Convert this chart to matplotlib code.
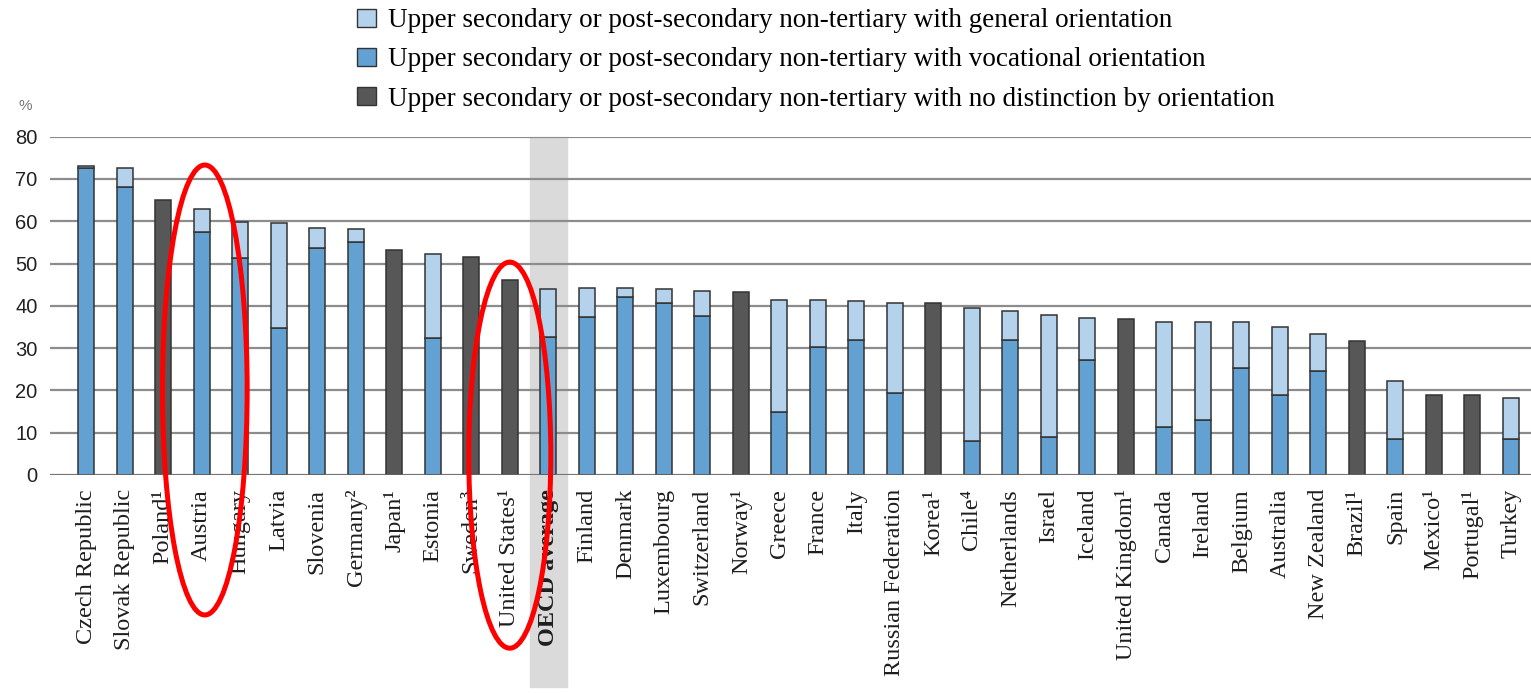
import numpy as np
import matplotlib.pyplot as plt
import matplotlib.transforms as mtransforms
from matplotlib.patches import Patch, Rectangle, Ellipse

countries = ["Czech Republic", "Slovak Republic", "Poland¹", "Austria", "Hungary",
             "Latvia", "Slovenia", "Germany²", "Japan¹", "Estonia", "Sweden³",
             "United States¹", "OECD average", "Finland", "Denmark", "Luxembourg",
             "Switzerland", "Norway¹", "Greece", "France", "Italy",
             "Russian Federation", "Korea¹", "Chile⁴", "Netherlands", "Israel",
             "Iceland", "United Kingdom¹", "Canada", "Ireland", "Belgium",
             "Australia", "New Zealand", "Brazil¹", "Spain", "Mexico¹",
             "Portugal¹", "Turkey"]

vocational = [72.6, 68.2, 0, 57.5, 51.2, 34.8, 53.6, 55.2, 0, 32.3, 0,
              0, 32.6, 37.4, 42.2, 40.7, 37.6, 0, 15.0, 30.3, 31.9,
              19.5, 0, 8.1, 31.9, 9.0, 27.3, 0, 11.3, 13.1, 25.4,
              18.9, 24.6, 0, 8.4, 0, 0, 8.4]
general = [0.5, 4.4, 0, 5.5, 8.7, 24.9, 4.9, 2.9, 0, 20.0, 0,
           0, 11.5, 6.9, 2.0, 3.4, 6.0, 0, 26.5, 11.2, 9.3,
           21.2, 0, 31.3, 6.9, 28.8, 9.9, 0, 24.8, 23.0, 10.7,
           16.1, 8.7, 0, 13.8, 0, 0, 9.9]
no_distinction = [0, 0, 65.0, 0, 0, 0, 0, 0, 53.2, 0, 51.6,
                  46.1, 0, 0, 0, 0, 0, 43.3, 0, 0, 0,
                  0, 40.6, 0, 0, 0, 0, 36.8, 0, 0, 0,
                  0, 0, 31.7, 0, 18.8, 18.8, 0]

legend_labels = [
    "Upper secondary or post-secondary non-tertiary with general orientation",
    "Upper secondary or post-secondary non-tertiary with vocational orientation",
    "Upper secondary or post-secondary non-tertiary with no distinction by orientation",
]

c_gen = "#b4d2eb"
c_voc = "#62a1d1"
c_nod = "#575757"
edge = "#333333"
serif = ["Liberation Serif", "DejaVu Serif"]

fig = plt.figure(figsize=(15.31, 6.93), dpi=100)
ax = fig.add_axes([50 / 1531, 1 - 475 / 693, 1 - 50 / 1531, (475 - 136.7) / 693])

x = np.arange(len(countries))
w = 0.415
voc = np.array(vocational)
gen = np.array(general)
nod = np.array(no_distinction)

ax.bar(x, voc, w, color=c_voc, edgecolor=edge, linewidth=1.1, zorder=3)
ax.bar(x, gen, w, bottom=voc, color=c_gen, edgecolor=edge, linewidth=1.1, zorder=3)
ax.bar(x, nod, w, color=c_nod, edgecolor=edge, linewidth=1.1, zorder=3)

ax.set_xlim(-0.94, 37.52)
ax.set_ylim(0, 80)
ax.set_yticks(np.arange(0, 81, 10))
ax.yaxis.grid(True, color="#8c8c8c", linewidth=1.6, zorder=1)
ax.set_axisbelow(True)
for s in ax.spines.values():
    s.set_visible(False)
ax.axhline(0, color="#6e6e6e", linewidth=1.8, zorder=4)

ax.tick_params(axis="y", length=0, pad=9, labelsize=14.5, labelcolor="#222222")
for t in ax.get_yticklabels():
    t.set_fontfamily("Liberation Sans")

ax.set_xticks(x)
ax.set_xticklabels(countries, rotation=90, fontsize=17.5, color="#1e1e1e",
                   fontfamily=serif, va="top")
ax.tick_params(axis="x", length=0, pad=10)
i_oecd = countries.index("OECD average")
ax.get_xticklabels()[i_oecd].set_fontweight("bold")

# grey band behind the OECD average bar and label
trans = mtransforms.blended_transform_factory(ax.transData, ax.transAxes)
band_bottom = -(687 - 475) / (475 - 136.7)
ax.add_patch(Rectangle((i_oecd - 0.485, band_bottom), 0.97, 1 - band_bottom,
                       transform=trans, color="#dadada", zorder=0, clip_on=False))

# red ellipses around Austria and United States
i_aut = countries.index("Austria")
i_us = countries.index("United States¹")
ax.add_patch(Ellipse((i_aut + 0.08, 20.1), 2.2, 106.4, fill=False, edgecolor="red",
                     linewidth=3.6, zorder=10, clip_on=False))
ax.add_patch(Ellipse((i_us, 4.7), 2.13, 91.3, fill=False, edgecolor="red",
                     linewidth=3.6, zorder=10, clip_on=False))

fig.text(25 / 1531, 1 - 106 / 693, "%", fontsize=11, color="#777777",
         ha="center", va="center", fontfamily="Liberation Sans")

handles = [Patch(facecolor=c, edgecolor=edge, linewidth=1) for c in (c_gen, c_voc, c_nod)]
fig.legend(handles, legend_labels, loc="upper left",
           bbox_to_anchor=(352 / 1531, 1 - 3 / 693), frameon=False,
           prop={"family": serif, "size": 19.5}, handlelength=0.68,
           handleheight=0.68, handletextpad=0.45, labelspacing=0.52,
           borderaxespad=0, borderpad=0.2)

fig.savefig("out.png", dpi=100)
